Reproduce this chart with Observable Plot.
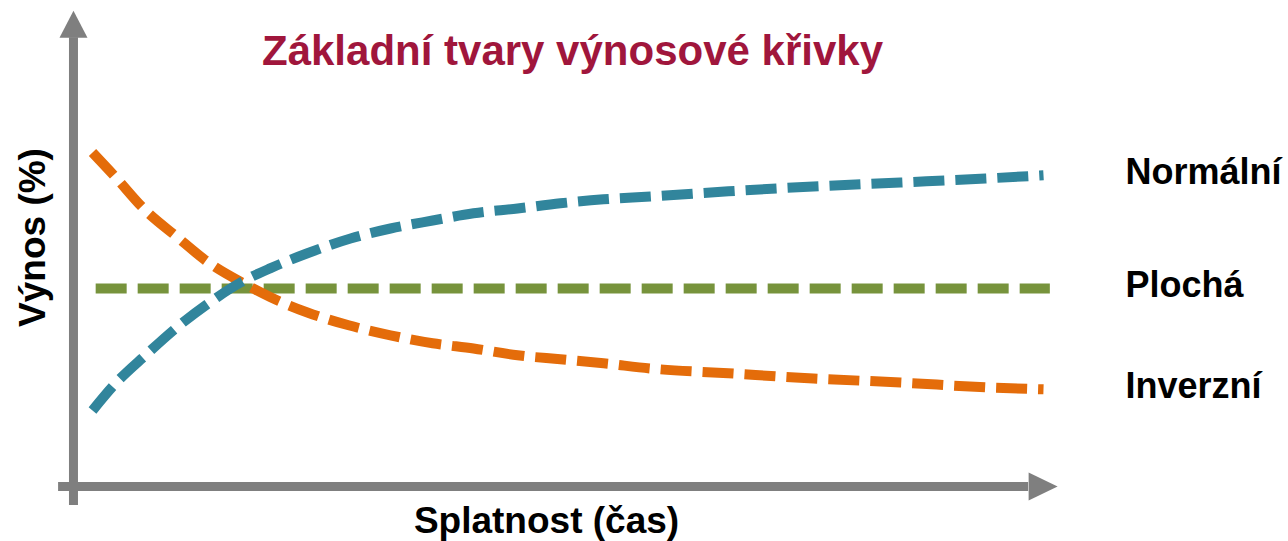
<!DOCTYPE html>
<html>
<head>
<meta charset="utf-8">
<script src="https://cdn.jsdelivr.net/npm/d3@7"></script>
<script src="https://cdn.jsdelivr.net/npm/@observablehq/plot@0.6"></script>
<style>
  html, body { margin: 0; padding: 0; background: #ffffff; }
  #chart svg { display: block; }
</style>
</head>
<body>
<div id="chart"></div>
<script>
// ---- data (maturity in years, yield in %) ----
const maturity = [0, 0.73, 1.67, 2.62, 3.66, 4.67, 5.62, 6.78, 8.14, 9.4, 10.73, 12.02, 13.41, 14.76, 16.12, 17.6, 20.06, 22.74, 25.49, 28.17, 30];
const normalYield = [1.9, 2.58, 3.28, 3.95, 4.58, 5.1, 5.46, 5.83, 6.2, 6.45, 6.65, 6.83, 6.95, 7.08, 7.18, 7.25, 7.38, 7.5, 7.6, 7.7, 7.78];

const maturityInv = [0, 0.73, 1.61, 2.68, 3.66, 4.83, 5.62, 6.78, 8.08, 9.4, 10.73, 12.02, 13.41, 14.76, 16.12, 17.6, 20.06, 22.74, 25.49, 28.17, 30];
const invertedYield = [8.35, 7.73, 6.95, 6.23, 5.6, 5.05, 4.73, 4.35, 4.03, 3.78, 3.58, 3.45, 3.28, 3.18, 3.08, 2.95, 2.83, 2.7, 2.6, 2.48, 2.43];

const maturityFlat = [0.1, 30.2];
const flatYield = [4.95, 4.95];

const seriesNames = ["Normální", "Plochá", "Inverzní"];
const titleText = "Základní tvary výnosové křivky";
const xLabel = "Splatnost (čas)";
const yLabel = "Výnos (%)";

// axis extents (data units)
const axisXPos = -0.6;     // maturity where the vertical axis sits
const axisYBottom = -0.475;
const axisYTop = 11.22;
const axisXLeft = -1.07;
const axisXRight = 29.53;

// ---- build tables ----
const colors = {"Normální": "#31859c", "Plochá": "#77933c", "Inverzní": "#e46c0a"};
const normal = maturity.map((m, i) => ({m, y: normalYield[i], s: seriesNames[0]}));
const flat = maturityFlat.map((m, i) => ({m, y: flatYield[i], s: seriesNames[1]}));
const inverted = maturityInv.map((m, i) => ({m, y: invertedYield[i], s: seriesNames[2]}));
const ends = [normal.at(-1), {m: 30, y: flatYield[1], s: seriesNames[1]}, inverted.at(-1)];

const gray = "#7f7f7f";
const font = "'Liberation Sans', Arial, Helvetica, sans-serif";

const arrowUp = {draw(ctx) { ctx.moveTo(-14, 0); ctx.lineTo(14, 0); ctx.lineTo(0, -27); ctx.closePath(); }};
const arrowRight = {draw(ctx) { ctx.moveTo(0, -14); ctx.lineTo(0, 14); ctx.lineTo(29, 0); ctx.closePath(); }};

const lineOpts = {x: "m", y: "y", strokeWidth: 10, strokeDasharray: "31,11", strokeLinecap: "butt", curve: "monotone-x"};

const chart = Plot.plot({
  width: 1288,
  height: 541,
  margin: 0,
  style: {fontFamily: font, background: "#ffffff"},
  x: {type: "linear", domain: [0, 30], range: [92, 1043], axis: null},
  y: {type: "linear", domain: [0, 10], range: [486, 86], axis: null},
  marks: [
    // axes
    Plot.ruleX([axisXPos], {y1: axisYBottom, y2: axisYTop, stroke: gray, strokeWidth: 9}),
    Plot.ruleY([0], {x1: axisXLeft, x2: axisXRight, stroke: gray, strokeWidth: 9}),
    Plot.dot([{x: axisXPos, y: axisYTop}], {x: "x", y: "y", symbol: arrowUp, fill: gray, stroke: "none"}),
    Plot.dot([{x: axisXRight, y: 0}], {x: "x", y: "y", symbol: arrowRight, fill: gray, stroke: "none"}),
    // curves
    Plot.line(flat, {...lineOpts, stroke: colors["Plochá"], curve: "linear"}),
    Plot.line(inverted, {...lineOpts, stroke: colors["Inverzní"]}),
    Plot.line(normal, {...lineOpts, stroke: colors["Normální"]}),
    // series labels
    Plot.text(ends, {x: "m", y: "y", text: "s", dx: 82, dy: -3, textAnchor: "start", lineAnchor: "middle",
      fontSize: 36, fontWeight: "bold", fill: "#000000"}),
    // title
    Plot.text([titleText], {frameAnchor: "top-left", dx: 572, dy: 64, text: d => d, textAnchor: "middle",
      lineAnchor: "bottom", fontSize: 42, fontWeight: "bold", fill: "#a0163c"}),
    // axis labels
    Plot.text([xLabel], {frameAnchor: "top-left", dx: 546, dy: 532, text: d => d, textAnchor: "middle",
      lineAnchor: "bottom", fontSize: 37, fontWeight: "bold", fill: "#000000"}),
    Plot.text([yLabel], {frameAnchor: "top-left", dx: 33, dy: 237, text: d => d, textAnchor: "middle",
      lineAnchor: "middle", rotate: -90, fontSize: 37, fontWeight: "bold", fill: "#000000"})
  ]
});
document.getElementById("chart").appendChild(chart);
</script>
</body>
</html>
